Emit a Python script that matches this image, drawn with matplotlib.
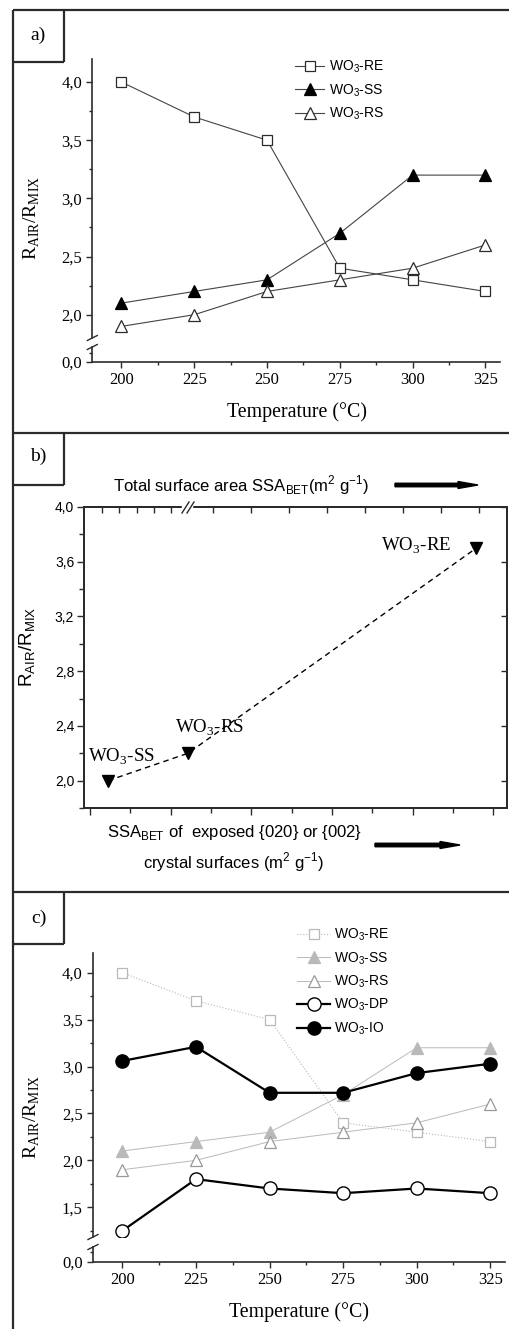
import matplotlib
matplotlib.use('Agg')
import numpy as np
import matplotlib.pyplot as plt
from matplotlib.patches import FancyArrow, Rectangle
from matplotlib.ticker import FuncFormatter, MultipleLocator, FixedLocator, NullFormatter

# ---- data ----
temps = [200, 225, 250, 275, 300, 325]
re_vals = [4.0, 3.7, 3.5, 2.4, 2.3, 2.2]
ss_vals = [2.1, 2.2, 2.3, 2.7, 3.2, 3.2]
rs_vals = [1.9, 2.0, 2.2, 2.3, 2.4, 2.6]
dp_vals = [1.25, 1.8, 1.7, 1.65, 1.7, 1.65]
io_vals = [3.06, 3.21, 2.72, 2.72, 2.93, 3.03]

# panel b: samples placed along surface-area axis (arbitrary units)
b_names = ['SS', 'RS', 'RE']
b_x = [0.45, 2.43, 9.58]
b_y = [2.0, 2.2, 3.7]

W, H = 510, 1329
SERIF = 'Liberation Serif'
SANS = 'Liberation Sans'
DARK = '#2b2b2b'
GREY = '#b9b9b9'

fig = plt.figure(figsize=(W / 100, H / 100), dpi=100)


def box(x0, y0, x1, y1):
    return [x0 / W, 1 - y1 / H, (x1 - x0) / W, (y1 - y0) / H]


comma = FuncFormatter(lambda v, p: f'{v:.1f}'.replace('.', ','))


def wo3(tag):
    return 'WO$_\\mathregular{3}$-' + tag


def broken_axes(left, right, top, brk_hi, brk_lo, bottom, ylim_hi, ylim_lo, lo_minor):
    ax_hi = fig.add_axes(box(left, top, right, brk_hi))
    ax_lo = fig.add_axes(box(left, brk_lo, right, bottom), sharex=ax_hi)
    for ax in (ax_hi, ax_lo):
        ax.set_facecolor('none')
        for s in ('top', 'right'):
            ax.spines[s].set_visible(False)
        for s in ('left', 'bottom'):
            ax.spines[s].set_color(DARK)
            ax.spines[s].set_linewidth(1.2)
        ax.tick_params(which='major', length=4.5, width=1.0, color=DARK, direction='out',
                       labelsize=12, pad=3)
        ax.tick_params(which='minor', length=2.5, width=1.0, color=DARK, direction='out')
    ax_hi.spines['bottom'].set_visible(False)
    ax_hi.tick_params(axis='x', which='both', bottom=False, labelbottom=False)
    ax_hi.set_ylim(*ylim_hi)
    ax_hi.yaxis.set_major_locator(MultipleLocator(0.5))
    ax_hi.yaxis.set_minor_locator(MultipleLocator(0.25))
    ax_hi.yaxis.set_major_formatter(comma)
    ax_lo.set_ylim(*ylim_lo)
    ax_lo.yaxis.set_major_locator(FixedLocator([0.0]))
    ax_lo.yaxis.set_minor_locator(FixedLocator([lo_minor]))
    ax_lo.yaxis.set_major_formatter(comma)
    ax_lo.set_xlim(190, 330)
    ax_lo.xaxis.set_major_locator(MultipleLocator(25))
    ax_lo.xaxis.set_minor_locator(MultipleLocator(12.5))
    for ax in (ax_hi, ax_lo):
        for t in ax.get_xticklabels() + ax.get_yticklabels():
            t.set_family(SERIF)
    # break marks on the y axis
    for yb in (brk_hi, brk_lo):
        ov.plot([left - 5, left + 5], [yb + 2.5, yb - 2.5], color=DARK, lw=1.0)
    return ax_hi, ax_lo


# ---- overlay in pixel coordinates (frames, labels, arrows) ----
ov = fig.add_axes([0, 0, 1, 1])
ov.set_xlim(0, W)
ov.set_ylim(H, 0)
ov.axis('off')
ov.set_zorder(10)

fl = dict(color=DARK, lw=1.6, solid_capstyle='butt')
ov.plot([13, 13], [10, H], **fl)
for ytop in (10, 433, 892):
    ov.plot([13, W], [ytop, ytop], **fl)
    ov.plot([64, 64], [ytop, ytop + 52], **fl)
    ov.plot([13, 64], [ytop + 52, ytop + 52], **fl)
for lab, yc in (('a)', 35), ('b)', 456), ('c)', 918)):
    ov.text(38.5, yc, lab, family=SERIF, fontsize=14, ha='center', va='center')

ylab = 'R$_\\mathregular{AIR}$/R$_\\mathregular{MIX}$'

# ---- panel a ----
a_hi, a_lo = broken_axes(92.3, 500, 59, 338, 347, 362, (1.80, 4.198), (0, 0.129), 0.08)
a_hi.plot(temps, re_vals, color='#444444', lw=0.8, marker='s', ms=7, mfc='white',
          mec=DARK, mew=0.9, label=wo3('RE'))
a_hi.plot(temps, ss_vals, color='#444444', lw=0.8, marker='^', ms=8, mfc='black',
          mec='black', mew=0.9, label=wo3('SS'))
a_hi.plot(temps, rs_vals, color='#444444', lw=0.8, marker='^', ms=8, mfc='white',
          mec=DARK, mew=0.9, label=wo3('RS'))
a_hi.legend(loc='upper left', bbox_to_anchor=(295 / W, 1 - 59 / H), bbox_transform=fig.transFigure,
            frameon=False, prop={'family': SANS, 'size': 10}, handlelength=2.1,
            handletextpad=0.35, labelspacing=0.5, borderpad=0, borderaxespad=0)
ov.text(32, 218, ylab, family=SERIF, fontsize=14, rotation=90, ha='center', va='center')
ov.text(297, 412, 'Temperature (°C)', family=SERIF, fontsize=14.3, ha='center', va='center')

# ---- panel b ----
ax_b = fig.add_axes(box(84, 507, 507, 808))
ax_b.set_facecolor('none')
ax_b.plot(b_x, b_y, ls='--', dashes=(4, 3), color='black', lw=1.0)
ax_b.plot(b_x, b_y, ls='none', marker='v', ms=9, color='black')
ax_b.set_xlim(-0.149, 10.34)
ax_b.set_ylim(1.8, 4.0)
ax_b.xaxis.set_major_locator(MultipleLocator(2))
ax_b.xaxis.set_minor_locator(MultipleLocator(1))
ax_b.xaxis.set_major_formatter(NullFormatter())
ax_b.yaxis.set_major_locator(MultipleLocator(0.4))
ax_b.yaxis.set_minor_locator(MultipleLocator(0.2))
ax_b.yaxis.set_major_formatter(comma)
for s in ax_b.spines.values():
    s.set_color(DARK)
    s.set_linewidth(1.2)
ax_b.tick_params(which='major', length=5, width=1.0, color=DARK, direction='out',
                 labelsize=10, pad=2)
ax_b.tick_params(which='minor', length=3.5, width=1.0, color=DARK, direction='out')
for t in ax_b.get_yticklabels():
    t.set_family(SANS)
ax_r = ax_b.twinx()
ax_r.set_ylim(1.8, 4.0)
ax_r.yaxis.set_major_locator(MultipleLocator(0.4))
ax_r.tick_params(axis='y', direction='in', length=4, width=1.0, color=DARK, labelright=False)
ax_t = ax_b.twiny()
ax_t.set_xlim(-0.149, 10.34)
ax_t.xaxis.set_major_locator(FixedLocator(list(np.arange(0.29, 2.1, 0.432)) +
                                          list(np.arange(3.04, 10.3, 0.942))))
ax_t.tick_params(axis='x', direction='in', length=4, width=1.0, color=DARK, labeltop=False)
for axx in (ax_r, ax_t):
    for s in axx.spines.values():
        s.set_color(DARK)
        s.set_linewidth(1.2)

for name, x, y in zip(b_names, b_x, b_y):
    if name == 'RE':
        off, ha = (-25, 2), 'right'
    elif name == 'RS':
        off, ha = (-13, 25), 'left'
    else:
        off, ha = (-20, 24), 'left'
    ax_b.annotate(wo3(name), (x, y), xytext=off, textcoords='offset pixels', ha=ha,
                  va='center', family=SERIF, fontsize=13.6)

# top spine break
ov.add_patch(Rectangle((182, 503), 10, 8, color='white', zorder=3))
for x0 in (182, 187):
    ov.plot([x0, x0 + 7], [513, 502], color=DARK, lw=1.0, zorder=4)

ov.text(28, 647, ylab, family=SANS, fontsize=13.5, rotation=90, ha='center', va='center')
ov.text(113, 485, 'Total surface area SSA$_\\mathregular{BET}$(m$^\\mathregular{2}$ g$^\\mathregular{-1}$)',
        family=SANS, fontsize=12, ha='left', va='center')
ov.text(107, 833, 'SSA$_\\mathregular{BET}$ of  exposed {020} or {002}',
        family=SANS, fontsize=12, ha='left', va='center')
ov.text(233, 862, 'crystal surfaces (m$^\\mathregular{2}$ g$^\\mathregular{-1}$)',
        family=SANS, fontsize=12, ha='center', va='center')
ov.add_patch(FancyArrow(395, 485, 83, 0, width=3.5, head_width=7, head_length=20,
                        length_includes_head=True, color='black'))
ov.add_patch(FancyArrow(375, 845, 85, 0, width=3.5, head_width=7, head_length=20,
                        length_includes_head=True, color='black'))

# ---- panel c ----
c_hi, c_lo = broken_axes(93, 505, 953, 1237, 1247, 1262, (1.183, 4.21), (0, 0.16), 0.11)
c_hi.plot(temps, re_vals, color=GREY, lw=0.8, ls=':', marker='s', ms=7, mfc='white',
          mec=GREY, mew=0.9, label=wo3('RE'))
c_hi.plot(temps, ss_vals, color=GREY, lw=0.7, marker='^', ms=8, mfc=GREY,
          mec=GREY, mew=0.9, label=wo3('SS'))
c_hi.plot(temps, rs_vals, color=GREY, lw=0.7, marker='^', ms=8, mfc='white',
          mec='#999999', mew=0.9, label=wo3('RS'))
c_hi.plot(temps, dp_vals, color='black', lw=1.6, marker='o', ms=9.5, mfc='white',
          mec='black', mew=1.0, label=wo3('DP'))
c_hi.plot(temps, io_vals, color='black', lw=1.6, marker='o', ms=9.5, mfc='black',
          mec='black', mew=1.0, label=wo3('IO'))
c_hi.legend(loc='upper left', bbox_to_anchor=(297 / W, 1 - 927 / H), bbox_transform=fig.transFigure,
            frameon=False, prop={'family': SANS, 'size': 10}, handlelength=2.4,
            handletextpad=0.3, labelspacing=0.5, borderpad=0, borderaxespad=0)
ov.text(32, 1117, ylab, family=SERIF, fontsize=14, rotation=90, ha='center', va='center')
ov.text(299, 1312, 'Temperature (°C)', family=SERIF, fontsize=14.3, ha='center', va='center')

fig.savefig('out.png', dpi=100)
